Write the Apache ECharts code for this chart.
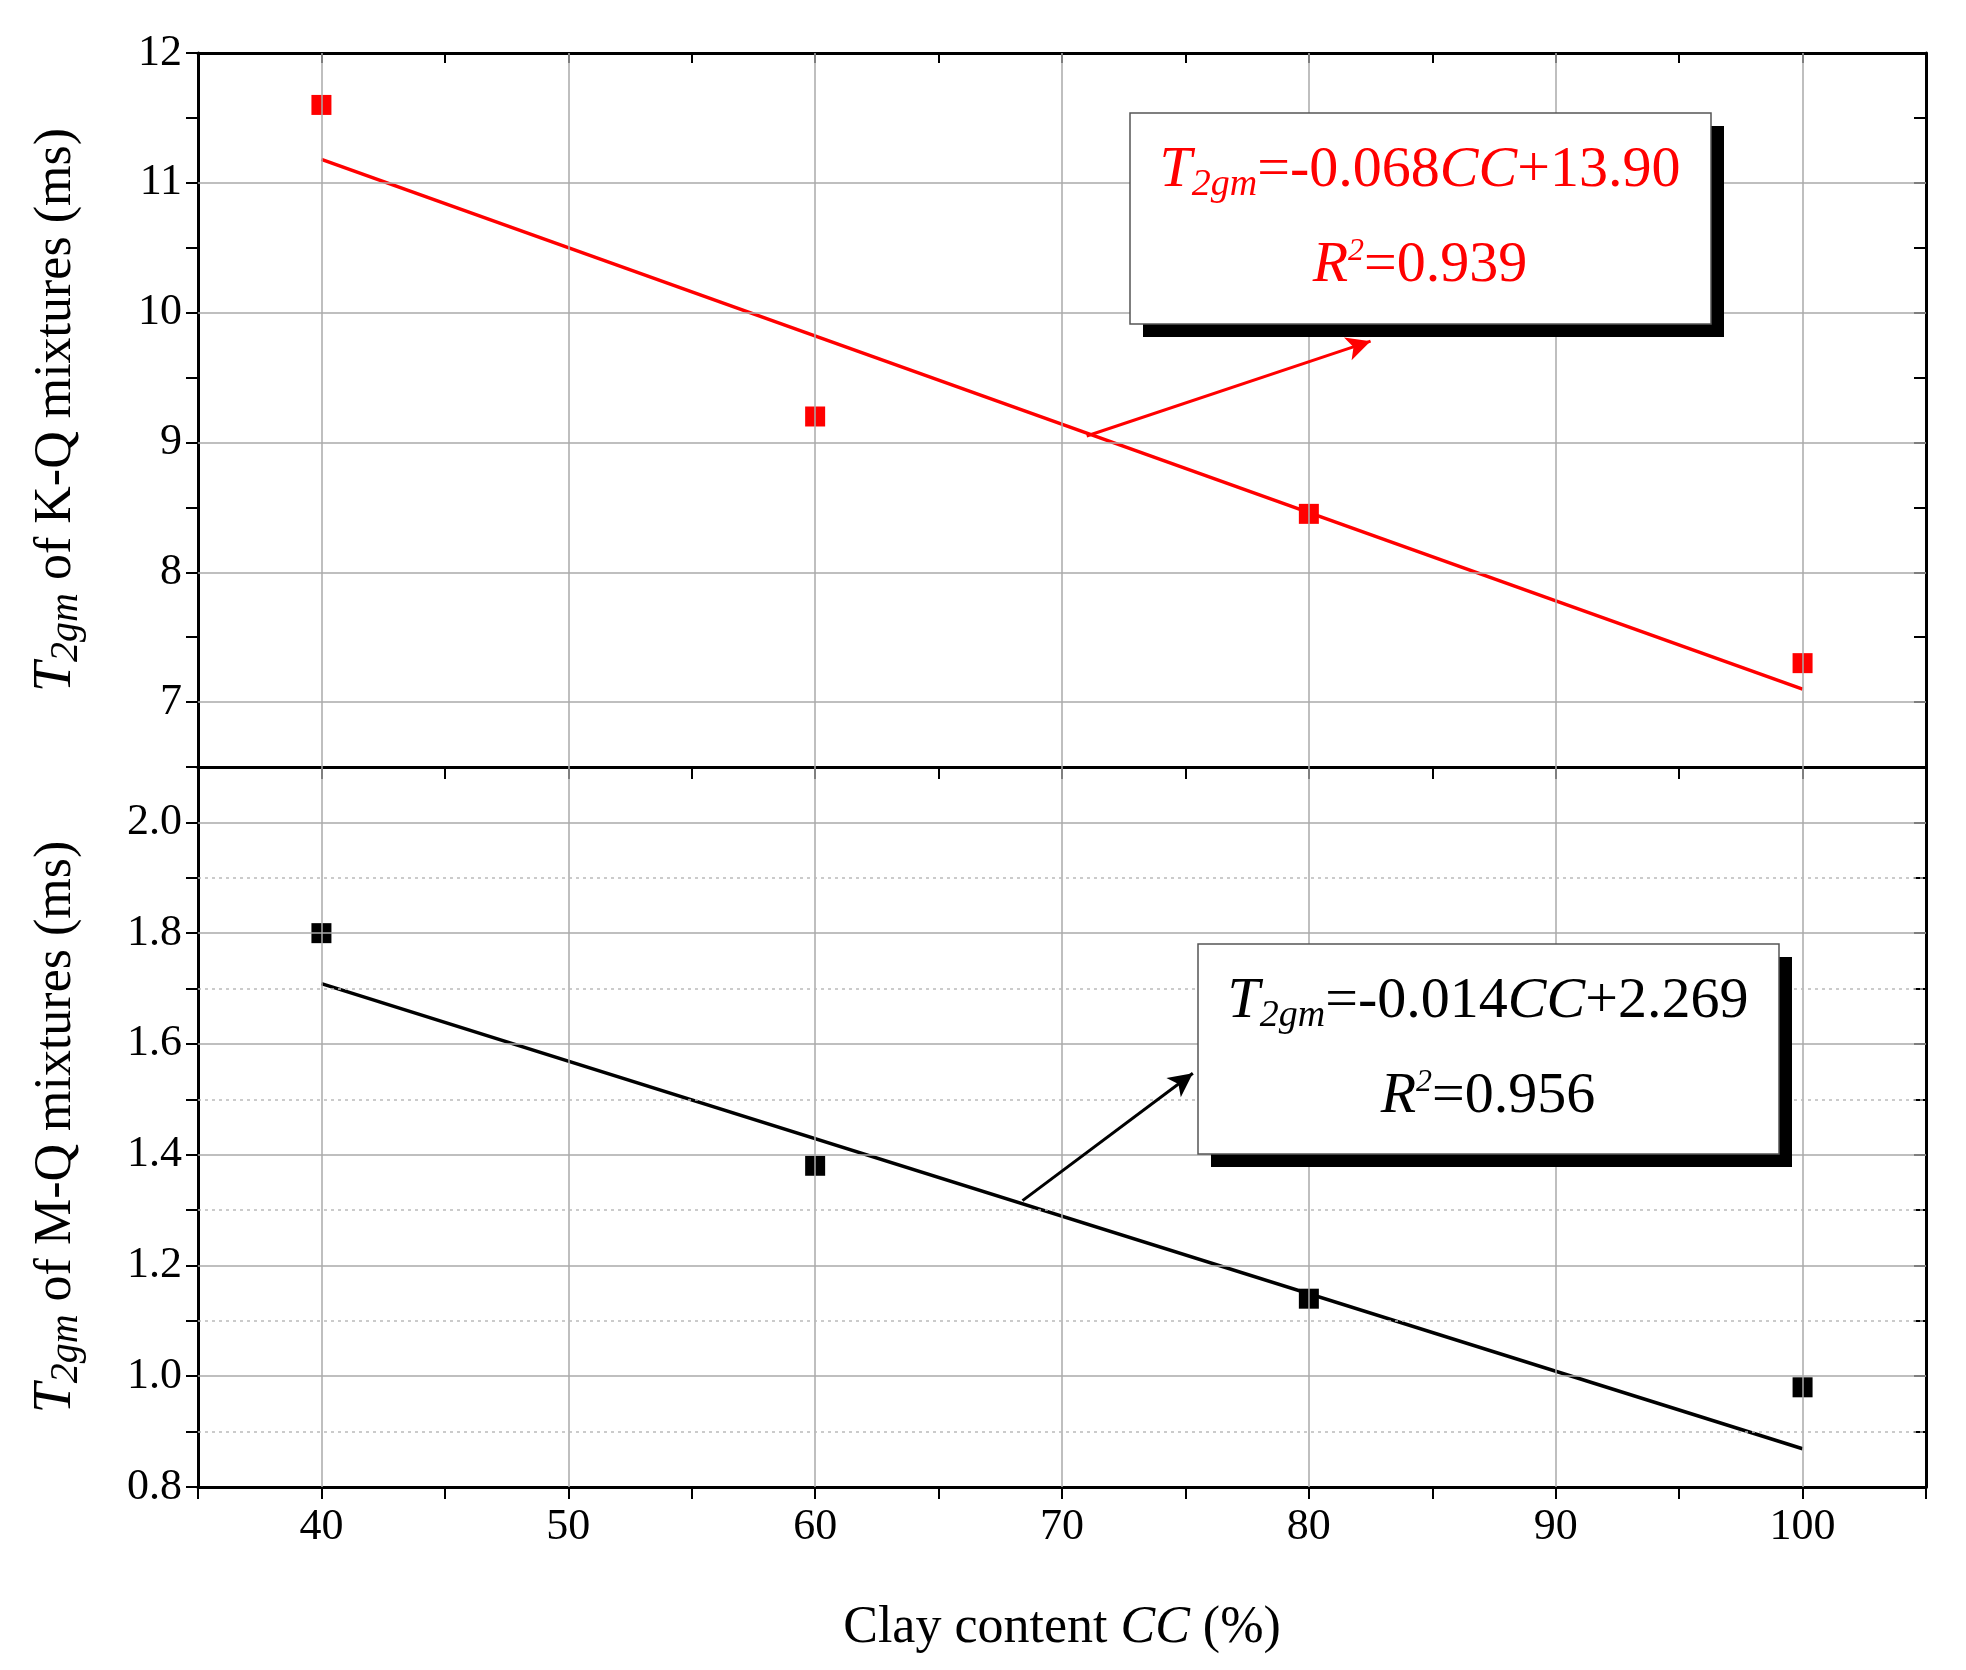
<!DOCTYPE html>
<html><head><meta charset="utf-8">
<script src="https://cdn.jsdelivr.net/npm/echarts@6/dist/echarts.min.js"></script>
<style>html,body{margin:0;background:#fff}#c{width:1966px;height:1670px}</style>
</head><body><div id="c"></div>
<script>
var clay = [40, 60, 80, 100];
var kq = [11.6, 9.2, 8.45, 7.3];
var mq = [1.8, 1.38, 1.14, 0.98];
var fitX = [40, 100];
var fitKQ = [11.18, 7.10];
var fitMQ = [1.709, 0.869];
var arrowKQ = [[71, 9.05], [82.5, 9.78]];
var arrowMQ = [[68.4, 1.317], [75.3, 1.547]];
var xGrid = [40, 50, 60, 70, 80, 90, 100];
var kqGrid = [7, 8, 9, 10, 11];
var mqGrid = [1.0, 1.2, 1.4, 1.6, 1.8, 2.0];
var mqMinor = [0.9, 1.1, 1.3, 1.5, 1.7, 1.9];

var F = 'Liberation Serif';
var axCol = '#000';
function pairs(xs, ys){ return xs.map(function(x,i){return [x, ys[i]];}); }
function st(size, italic, color, extra){
  var o = {fontFamily:F, fontSize:size, fontStyle:italic?'italic':'normal', fontWeight:'normal', color:color, fill:color};
  for (var k in extra) o[k] = extra[k];
  return o;
}
function xAx(g, pos, show){
  return {gridIndex:g, type:'value', position:pos, min:35, max:105, interval:5,
    axisLine:{onZero:false, lineStyle:{color:axCol,width:3}},
    axisTick:{inside:pos==='top', length:pos==='top'?10:12, lineStyle:{color:axCol,width:2}},
    axisLabel:{show:show, margin:18, color:'#000', fontFamily:F, fontStyle:'normal', fontSize:44,
      formatter:function(v){return v%10===0?String(v):'';}},
    splitLine:{show:false},
    name: show ? '{t|Clay content }{i|CC}{t| (%)}' : '', nameLocation:'middle', nameGap:115,
    nameTextStyle:{fontFamily:F, fontStyle:'normal', rich:{t:st(52,false,'#000'), i:st(52,true,'#000')}}
  };
}
function yAx(g, pos, min, max, iv, fmt, name){
  return {gridIndex:g, type:'value', position:pos, min:min, max:max, interval:iv,
    axisLine:{onZero:false, lineStyle:{color:axCol,width:3}},
    axisTick:{inside:pos==='right', length:12, lineStyle:{color:axCol,width:2}},
    axisLabel:{show:pos==='left', margin:16, color:'#000', fontFamily:F, fontStyle:'normal', fontSize:44, formatter:fmt},
    splitLine:{show:false},
    name: pos==='left' ? name : '', nameLocation:'middle', nameGap:pos==='left'?112:0,
    nameTextStyle:{fontFamily:F, fontStyle:'normal', rich:{
      t:st(52,false,'#000'),
      i:st(54,true,'#000'),
      s:st(40,true,'#000',{padding:[20,0,0,0]})}}
  };
}
var gridLine = {color:'#aaa', width:1.5, type:'solid'};
function gl(list, key, style){
  return list.map(function(v){var o={}; o[key]=v; o.lineStyle=style; return o;});
}
function eqRich(c){
  return {t:st(58,false,c,{lineHeight:95}), i:st(58,true,c,{lineHeight:95}),
    s:st(38,true,c,{padding:[30,0,0,0],lineHeight:95}), p:st(32,true,c,{padding:[0,0,28,0],lineHeight:95})};
}
var chart = echarts.init(document.getElementById('c'));
var option = {
  animation:false,
  textStyle:{fontFamily:F},
  grid:[{left:198, top:53, width:1728, height:714},{left:198, top:767, width:1728, height:720}],
  xAxis:[xAx(0,'bottom',false), xAx(0,'top',false), xAx(1,'bottom',true), xAx(1,'top',false)],
  yAxis:[
    yAx(0,'left',6.5,12,0.5,function(v){return v%1===0?String(v):'';},'{i|T}{s|2gm}{t| of K-Q mixtures (ms)}'),
    yAx(0,'right',6.5,12,0.5,null,''),
    yAx(1,'left',0.8,2.1,0.1,function(v){var r=Math.round(v*10);return r%2===0?(r/10).toFixed(1):'';},'{i|T}{s|2gm}{t| of M-Q mixtures (ms)}'),
    yAx(1,'right',0.8,2.1,0.1,null,'')
  ],
  series:[
    {type:'line', xAxisIndex:0, yAxisIndex:0, data:[], silent:true,
      markLine:{silent:true, symbol:'none', label:{show:false},
        data:gl(xGrid,'xAxis',gridLine).concat(gl(kqGrid,'yAxis',gridLine))}},
    {type:'line', xAxisIndex:2, yAxisIndex:2, data:[], silent:true,
      markLine:{silent:true, symbol:'none', label:{show:false},
        data:gl(xGrid,'xAxis',gridLine).concat(gl(mqGrid,'yAxis',gridLine))
          .concat(gl(mqMinor,'yAxis',{color:'#bbb',width:1.5,type:[3,4]}))}},
    {type:'line', xAxisIndex:0, yAxisIndex:0, data:pairs(fitX,fitKQ), symbol:'none',
      lineStyle:{color:'#f00',width:3.5}, z:3,
      markLine:{symbol:['none','arrow'], symbolSize:[18,24], label:{show:false},
        lineStyle:{color:'#f00',width:3,type:'solid'},
        data:[[{coord:arrowKQ[0]},{coord:arrowKQ[1]}]]}},
    {type:'scatter', xAxisIndex:0, yAxisIndex:0, data:pairs(clay,kq), symbol:'rect', symbolSize:20,
      itemStyle:{color:'#f00', borderWidth:0, opacity:1}, z:4},
    {type:'line', xAxisIndex:2, yAxisIndex:2, data:pairs(fitX,fitMQ), symbol:'none',
      lineStyle:{color:'#000',width:3.5}, z:3,
      markLine:{symbol:['none','arrow'], symbolSize:[18,24], label:{show:false},
        lineStyle:{color:'#000',width:3,type:'solid'},
        data:[[{coord:arrowMQ[0]},{coord:arrowMQ[1]}]]}},
    {type:'scatter', xAxisIndex:2, yAxisIndex:2, data:pairs(clay,mq), symbol:'rect', symbolSize:20,
      itemStyle:{color:'#000', borderWidth:0, opacity:1}, z:4}
  ],
  graphic:[
    {type:'rect', shape:{x:1143,y:126,width:581,height:211}, style:{fill:'#000'}, z:10},
    {type:'rect', shape:{x:1130,y:113,width:581,height:211}, style:{fill:'#fff',stroke:'#555',lineWidth:1.5}, z:11},
    {type:'text', x:1420, y:218, z:12, style:{align:'center', verticalAlign:'middle', fontFamily:F,
      text:'{i|T}{s|2gm}{t|=-0.068}{i|CC}{t|+13.90}\n{i|R}{p|2}{t|=0.939}', rich:eqRich('#f00')}},
    {type:'rect', shape:{x:1211,y:957,width:581,height:210}, style:{fill:'#000'}, z:10},
    {type:'rect', shape:{x:1198,y:944,width:581,height:210}, style:{fill:'#fff',stroke:'#555',lineWidth:1.5}, z:11},
    {type:'text', x:1488, y:1049, z:12, style:{align:'center', verticalAlign:'middle', fontFamily:F,
      text:'{i|T}{s|2gm}{t|=-0.014}{i|CC}{t|+2.269}\n{i|R}{p|2}{t|=0.956}', rich:eqRich('#000')}}
  ]
};
chart.setOption(option);
</script></body></html>
